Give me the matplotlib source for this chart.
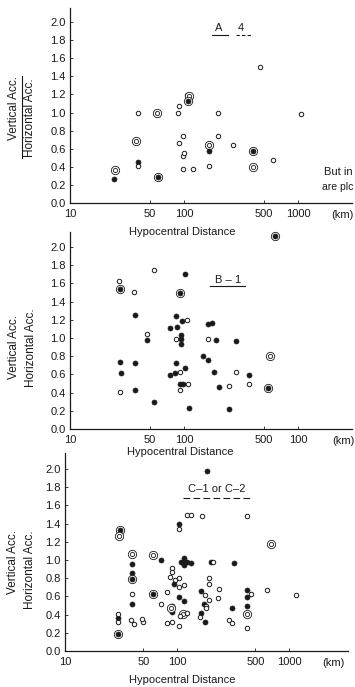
import matplotlib
matplotlib.use('Agg')
import matplotlib.pyplot as plt
from matplotlib.lines import Line2D
from matplotlib.ticker import FixedLocator, FixedFormatter, NullLocator

plt.rcParams['font.family'] = ['Liberation Sans', 'DejaVu Sans']

# ---------------- data ----------------
# kinds: o = open circle, f = filled, oo = double open circle, fo = filled with ring
A_dist = [24.5, 24.8, 39.3, 37.9, 39.3, 39.3, 57.6, 59.6, 89, 90, 90, 98.6, 98.6, 98, 101,
          107, 111, 109, 119, 167, 167, 167, 200, 200, 271, 405, 405, 464, 600, 1070]
A_ratio = [0.27, 0.37, 1.00, 0.685, 0.45, 0.41, 1.00, 0.29, 0.99, 1.07, 0.66, 0.74, 0.38, 0.52, 0.55,
           1.19, 1.18, 1.13, 0.38, 0.64, 0.57, 0.41, 1.00, 0.74, 0.64, 0.58, 0.40, 1.50, 0.475, 0.98]
A_kind = ['f', 'oo', 'o', 'oo', 'f', 'o', 'oo', 'fo', 'o', 'o', 'o', 'o', 'o', 'o', 'o',
          'o', 'oo', 'fo', 'o', 'oo', 'f', 'o', 'o', 'o', 'o', 'fo', 'oo', 'o', 'o', 'o']

B_dist = [27.5, 27, 36.6, 54.6, 102, 92, 37, 84.6, 75, 86, 97, 106, 94, 94, 94, 85, 47, 47,
          161, 177, 190, 161, 284, 148, 164, 27.5, 28, 27.5, 37, 37, 55, 84.6, 84, 76, 92, 102,
          92, 98, 92, 109, 111, 184, 203, 250, 284, 250, 374, 374, 550, 565, 628]
B_ratio = [1.54, 1.63, 1.51, 1.75, 1.70, 1.50, 1.25, 1.24, 1.11, 1.12, 1.19, 1.20, 1.03, 0.99, 0.93,
           0.99, 0.98, 1.04, 1.15, 1.17, 0.98, 0.99, 0.97, 0.80, 0.76, 0.74, 0.61, 0.41, 0.72, 0.43,
           0.30, 0.72, 0.62, 0.59, 0.63, 0.67, 0.49, 0.49, 0.43, 0.49, 0.23, 0.63, 0.46, 0.47, 0.63,
           0.22, 0.59, 0.49, 0.45, 0.80, 2.12]
B_kind = ['fo', 'o', 'o', 'o', 'f', 'fo', 'f', 'f', 'f', 'f', 'f', 'o', 'f', 'f', 'f',
          'o', 'f', 'o', 'f', 'f', 'f', 'o', 'f', 'f', 'f', 'f', 'f', 'o', 'f', 'f',
          'f', 'f', 'f', 'f', 'o', 'f', 'f', 'f', 'o', 'o', 'f', 'f', 'f', 'o', 'o',
          'f', 'f', 'o', 'fo', 'oo', 'fo']

C_dist = [186, 31, 30.5, 123, 132, 167, 104, 104, 424, 685,
          39.5, 40, 39.5, 40, 39.5, 39.5, 39, 41, 49.6, 49,
          60.5, 72, 60.5, 72,
          108, 115, 115, 123, 115, 134, 201, 210, 321,
          90, 90, 87, 96, 103, 115, 93, 81, 103, 103, 115, 91, 91, 88,
          81, 91, 104, 112, 122, 107,
          164, 177, 173, 183, 192, 192, 192, 236, 230, 164, 177, 160, 180,
          311, 290, 311, 424, 424, 424, 460, 424, 424, 640, 1150,
          29.6, 30, 30, 29.6]
C_ratio = [1.98, 1.33, 1.26, 1.49, 1.49, 1.48, 1.40, 1.34, 1.48, 1.18,
           1.07, 0.96, 0.86, 0.79, 0.63, 0.52, 0.34, 0.30, 0.32, 0.35,
           1.05, 1.00, 0.63, 0.52,
           0.98, 1.02, 0.95, 0.98, 0.98, 0.97, 0.98, 0.98, 0.97,
           0.91, 0.87, 0.81, 0.78, 0.80, 0.72, 0.74, 0.65, 0.70, 0.59, 0.55, 0.49, 0.43, 0.47,
           0.31, 0.32, 0.28, 0.41, 0.42, 0.39,
           0.66, 0.62, 0.52, 0.50, 0.56, 0.74, 0.80, 0.68, 0.58, 0.42, 0.32, 0.37, 0.47,
           0.47, 0.34, 0.31, 0.67, 0.59, 0.49, 0.63, 0.41, 0.25, 0.67, 0.62,
           0.36, 0.41, 0.32, 0.19]
C_kind = ['f', 'fo', 'oo', 'o', 'o', 'o', 'f', 'o', 'o', 'oo',
          'oo', 'f', 'f', 'fo', 'o', 'f', 'o', 'o', 'o', 'o',
          'oo', 'f', 'fo', 'o',
          'f', 'f', 'f', 'f', 'f', 'f', 'f', 'o', 'f',
          'o', 'o', 'o', 'o', 'o', 'o', 'f', 'o', 'o', 'f', 'f', 'f', 'f', 'oo',
          'o', 'o', 'o', 'oo', 'o', 'o',
          'f', 'o', 'f', 'o', 'o', 'o', 'o', 'o', 'o', 'f', 'f', 'o', 'o',
          'f', 'o', 'o', 'f', 'f', 'f', 'o', 'oo', 'o', 'o', 'o',
          'f', 'o', 'o', 'fo']

x_ticks = [10, 50, 100, 500, 1000]
x_labels_A = ['10', '50', '100', '500', '1000']
x_labels_B = ['10', '50', '100', '500', '100']
x_labels_C = ['10', '50', '100', '500', '1000']
y_ticks = [0.0, 0.2, 0.4, 0.6, 0.8, 1.0, 1.2, 1.4, 1.6, 1.8, 2.0]
y_labels = ['0.0', '0.2', '0.4', '0.6', '0.8', '1.0', '1.2', '1.4', '1.6', '1.8', '2.0']

# ---------------- layout ----------------
W, H = 355, 687
INK = '#1a1a1a'
fig = plt.figure(figsize=(W / 100, H / 100), dpi=100)


def fx(px):
    return px / W


def fy(py):
    return 1 - py / H


def make_axes(left, top, right, bottom):
    return fig.add_axes([fx(left), fy(bottom), (right - left) / W, (bottom - top) / H])


def draw_points(ax, dist, ratio, kind):
    for d, r, k in zip(dist, ratio, kind):
        if k == 'o':
            ax.plot(d, r, 'o', ms=3.2, mfc='white', mec=INK, mew=0.7, clip_on=False)
        elif k == 'f':
            ax.plot(d, r, 'o', ms=3.6, mfc=INK, mec=INK, mew=0.5, clip_on=False)
        elif k == 'oo':
            ax.plot(d, r, 'o', ms=6.0, mfc='white', mec=INK, mew=0.6, clip_on=False)
            ax.plot(d, r, 'o', ms=3.0, mfc='white', mec=INK, mew=0.6, clip_on=False)
        elif k == 'fo':
            ax.plot(d, r, 'o', ms=6.0, mfc='white', mec=INK, mew=0.6, clip_on=False)
            ax.plot(d, r, 'o', ms=3.6, mfc=INK, mec=INK, mew=0.5, clip_on=False)


panels = [
    dict(dist=A_dist, ratio=A_ratio, kind=A_kind, rect=(70, 8, 352, 203), xmax=2980,
         ymax=2.155, xlabels=x_labels_A, km=(342, 215), xl=(182, 232),
         v=(14, 108), h=(30, 118), bar=(22, 76, 158)),
    dict(dist=B_dist, ratio=B_ratio, kind=B_kind, rect=(70, 232, 352, 429), xmax=2980,
         ymax=2.165, xlabels=x_labels_B, km=(343, 441), xl=(180, 452),
         v=(14, 347), h=(31, 348), bar=None),
    dict(dist=C_dist, ratio=C_ratio, kind=C_kind, rect=(65, 453, 348, 651), xmax=3350,
         ymax=2.176, xlabels=x_labels_C, km=(333, 663), xl=(182, 680),
         v=(13, 562), h=(30, 570), bar=None),
]

for p in panels:
    left, top, right, bottom = p['rect']
    ax = make_axes(left, top, right, bottom)
    ax.set_xscale('log')
    ax.set_xlim(10, p['xmax'])
    ax.set_ylim(0, p['ymax'])
    for s in ['top', 'right']:
        ax.spines[s].set_visible(False)
    for s in ['left', 'bottom']:
        ax.spines[s].set_linewidth(0.9)
        ax.spines[s].set_color(INK)
    ax.xaxis.set_major_locator(FixedLocator(x_ticks))
    ax.xaxis.set_major_formatter(FixedFormatter(p['xlabels']))
    ax.xaxis.set_minor_locator(NullLocator())
    ax.yaxis.set_major_locator(FixedLocator(y_ticks))
    ax.yaxis.set_major_formatter(FixedFormatter(y_labels))
    ax.tick_params(direction='in', length=2, width=0.6, labelsize=8, colors=INK, pad=3)
    ax.tick_params(axis='x', pad=4)
    draw_points(ax, p['dist'], p['ratio'], p['kind'])

    fig.text(fx(p['km'][0]), fy(p['km'][1]), '(km)', fontsize=8, color=INK,
             ha='center', va='center')
    fig.text(fx(p['xl'][0]), fy(p['xl'][1]), 'Hypocentral Distance', fontsize=8,
             color=INK, ha='center', va='center')
    fig.text(fx(p['v'][0]), fy(p['v'][1]), 'Vertical Acc.', fontsize=8.5, color=INK,
             rotation=90, ha='center', va='center')
    fig.text(fx(p['h'][0]), fy(p['h'][1]), 'Horizontal Acc.', fontsize=8.5, color=INK,
             rotation=90, ha='center', va='center')
    if p['bar'] is not None:
        bx, by0, by1 = p['bar']
        fig.add_artist(Line2D([fx(bx), fx(bx)], [fy(by0), fy(by1)], color=INK, lw=0.8))

# ---- annotations ----
fig.text(fx(219), fy(28), 'A', fontsize=8, color=INK, ha='center', va='center')
fig.text(fx(241), fy(28), '4', fontsize=8, color=INK, ha='center', va='center')
fig.add_artist(Line2D([fx(212), fx(228)], [fy(35), fy(35)], color=INK, lw=0.8))
fig.add_artist(Line2D([fx(236), fx(252)], [fy(35), fy(35)], color=INK, lw=0.8, ls=(0, (3, 2))))

fig.text(fx(324), fy(172), 'But in', fontsize=8, color=INK, ha='left', va='center')
fig.text(fx(322), fy(187), 'are plc', fontsize=7.5, color=INK, ha='left', va='center')

fig.text(fx(228), fy(280), 'B – 1', fontsize=8, color=INK, ha='center', va='center')
fig.add_artist(Line2D([fx(210), fx(245)], [fy(286), fy(286)], color=INK, lw=0.8))

fig.text(fx(217), fy(489), 'C–1 or C–2', fontsize=8, color=INK, ha='center', va='center')
fig.add_artist(Line2D([fx(183), fx(252)], [fy(498), fy(498)], color=INK, lw=0.8,
                      ls=(0, (6, 3))))

fig.savefig('out.png', dpi=100, facecolor='white')
